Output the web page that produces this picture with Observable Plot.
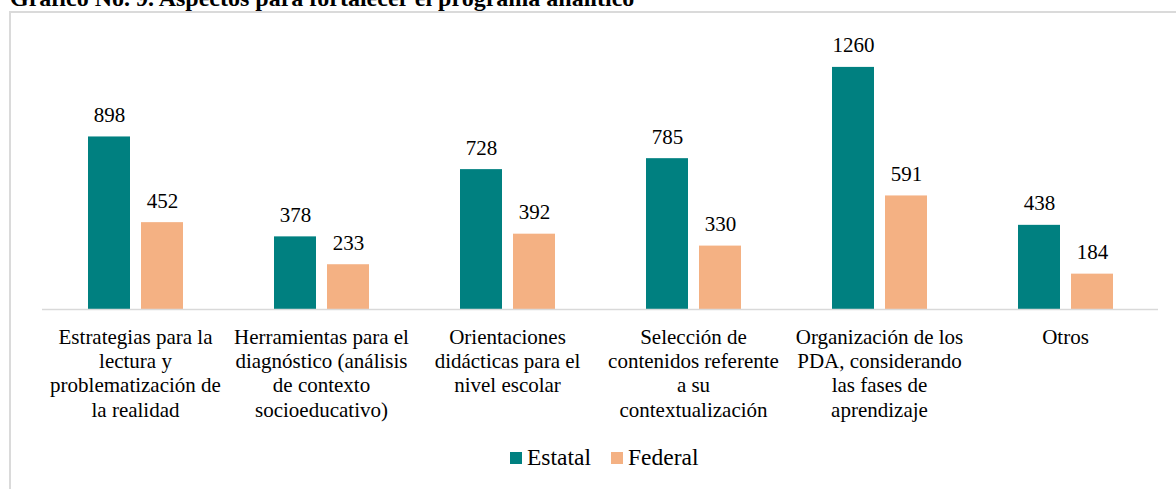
<!DOCTYPE html>
<html>
<head>
<meta charset="utf-8">
<script src="https://cdn.jsdelivr.net/npm/d3@7"></script>
<script src="https://cdn.jsdelivr.net/npm/@observablehq/plot@0.6"></script>
<style>
  html, body { margin: 0; padding: 0; background: #fff; width: 1176px; height: 489px; overflow: hidden; position: relative; }
  #title { position: absolute; left: 10px; top: -14px; font-weight: bold; font-size: 24px; line-height: 24px; white-space: nowrap; color: #000; }
  #frame { position: absolute; left: 9px; top: 11px; width: 1300px; height: 600px; border-left: 2px solid #dadada; border-top: 2px solid #dadada; }
  #chart { position: absolute; left: 0; top: 0; }
  #legend { position: absolute; left: 510px; top: 441px; }
  #legend > div { font-size: 23.5px !important; color: #000 !important; margin: 0 !important; }
  #legend span { margin-right: 20px !important; }
  #legend span > svg { margin-right: 5px !important; }
</style>
</head>
<body>
<div id="title" style="font-family:'Liberation Serif'">Gráfico No. 9. Aspectos para fortalecer el programa analítico</div>
<div id="frame"></div>
<div id="chart" style="font-family:'Liberation Serif'"></div>
<div id="legend" style="font-family:'Liberation Serif'"></div>
<script>
const categories = ["Estrategias", "Herramientas", "Orientaciones", "Selección", "Organización", "Otros"];
const categoryLabels = [
  "Estrategias para la\nlectura y\nproblematización de\nla realidad",
  "Herramientas para el\ndiagnóstico (análisis\nde contexto\nsocioeducativo)",
  "Orientaciones\ndidácticas para el\nnivel escolar",
  "Selección de\ncontenidos referente\na su\ncontextualización",
  "Organización de los\nPDA, considerando\nlas fases de\naprendizaje",
  "Otros"
];
const series = ["Estatal", "Federal"];
const estatal = [898, 378, 728, 785, 1260, 438];
const federal = [452, 233, 392, 330, 591, 184];
const colors = ["#008080", "#F4B183"];
const FONT = "Liberation Serif";

const data = categories.flatMap((c, i) => [
  {cat: c, serie: "Estatal", value: estatal[i]},
  {cat: c, serie: "Federal", value: federal[i]}
]);
const labelOf = new Map(categories.map((c, i) => [c, categoryLabels[i]]));

const chart = Plot.plot({
  width: 1176,
  height: 440,
  marginLeft: 40,
  marginRight: 16,
  marginTop: 40,
  marginBottom: 131,
  style: {fontFamily: FONT, fontSize: "21px", color: "#000", background: "transparent", overflow: "visible"},
  fx: {domain: categories, padding: 0, label: null, axis: null},
  x: {domain: series, axis: null, paddingInner: 11 / 53, paddingOuter: 0.84},
  y: {domain: [0, 1400], axis: null},
  color: {domain: series, range: colors},
  marks: [
    Plot.barY(data, {fx: "cat", x: "serie", y: "value", fill: "serie"}),
    Plot.ruleY([0], {stroke: "#d9d9d9", strokeWidth: 1.5}),
    Plot.text(data, {fx: "cat", x: "serie", y: "value", text: d => String(d.value), dy: -15, lineAnchor: "bottom", fill: "#000", fontSize: 21, fontFamily: FONT}),
    Plot.axisFx({anchor: "bottom", tickSize: 0, tickPadding: 17, label: null, tickFormat: c => labelOf.get(c), fontSize: 21, fontFamily: FONT, lineHeight: 1.157, fill: "#000"})
  ]
});
chart.querySelectorAll("text").forEach(t => t.style.fontFamily = FONT);
document.getElementById("chart").appendChild(chart);

const legend = Plot.legend({
  color: {domain: series, range: colors},
  legend: "swatches",
  swatchWidth: 12,
  swatchHeight: 12,
  style: {fontFamily: FONT, fontSize: "23.5px", color: "#000"}
});
legend.style.fontFamily = FONT;
document.getElementById("legend").appendChild(legend);
</script>
</body>
</html>
